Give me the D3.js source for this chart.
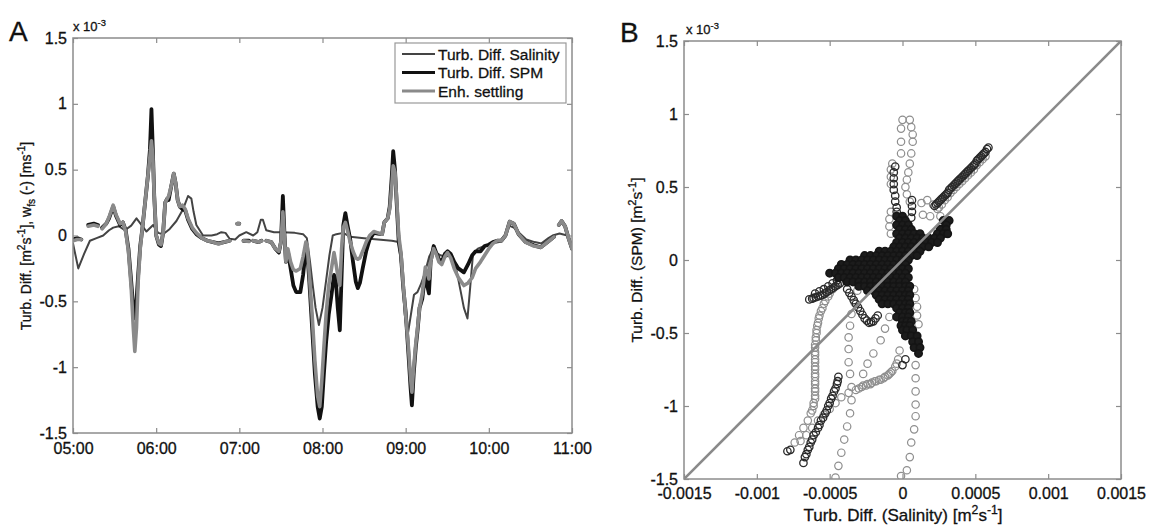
<!DOCTYPE html>
<html>
<head>
<meta charset="utf-8">
<script src="https://cdn.jsdelivr.net/npm/d3@7/dist/d3.min.js"></script>
<style>
  body { margin: 0; background: #fff; }
  svg { font-family: "Liberation Sans", Arial, sans-serif; }
  svg text { stroke: #111; stroke-width: 0.3px; }
</style>
</head>
<body>
<svg id="fig" width="1151" height="528"></svg>
<script>
// ---------- panel A : time series (values in 1e-3) ----------
// minutes after 05:00
const thickMin = [0,3,6,7,11,15,18,19,21,24,26,29,31,34,36,38,40,42,43.5,44.6,45.8,47,48.5,50,52,54,55.5,56.6,57.6,58.6,60,62,63.5,65,66.5,68,69,71,72.7,74,75.5,77,79,81,83,86,89,93,97,101,105,109,113,114,118.5,120,120.5,123,127,127.5,130,134,136,137,139.5,143,146,148.5,150,151.4,152.6,153.6,155,157,159,161,164,166,168,169,170.5,172.5,174.5,176.5,178,179.5,181,182.6,184.5,186.5,188.3,189.5,191,192.5,193.8,195,196.5,198,200,202,204,205.5,207,209,211.5,214,217,220,223,224.6,227,228.5,230,231,232.3,233.5,235,236.6,238.3,240,242,243.5,244.5,245.8,247.3,248.6,250,252,254.2,255.5,256.8,258,260.2,262,264,266,268.3,270.2,272.5,275,278,282,285,288,290.5,294,297,300,303,306,309,312,315,318,321.5,326.5,332.5,337.5,343.5,347,348,350.5,352.5,355,357.5,360];
const spmVal = [-0.03,-0.02,-0.03,null,0.08,0.09,0.08,null,0.06,0.09,0.13,0.22,0.15,0.08,0.1,0.04,-0.1,-0.35,-0.55,-0.63,-0.5,-0.3,-0.08,0.05,0.25,0.45,0.65,0.96,0.65,0.3,0.0,-0.07,-0.08,0.02,0.25,0.28,0.27,0.38,0.47,0.4,0.27,0.22,0.2,0.19,0.12,0.05,0.01,-0.02,-0.04,-0.05,-0.06,-0.05,-0.04,null,0.09,0.09,null,-0.04,-0.04,null,-0.04,-0.05,-0.04,null,-0.04,-0.05,-0.1,-0.13,-0.05,0.3,0.0,-0.2,-0.12,-0.25,-0.38,-0.43,-0.43,-0.3,-0.1,-0.12,-0.35,-0.7,-1.05,-1.3,-1.39,-1.3,-1.05,-0.81,-0.6,-0.45,-0.3,-0.32,-0.55,-0.72,-0.3,0.08,0.17,0.08,-0.03,-0.2,-0.35,-0.4,-0.36,-0.25,-0.12,-0.03,0.02,0.015,0.01,0.1,0.13,0.22,0.45,0.64,0.5,0.25,-0.05,-0.15,-0.4,-0.58,-0.9,-1.15,-1.29,-1.05,-0.85,-0.72,-0.55,-0.48,-0.28,-0.38,-0.44,-0.2,-0.08,-0.13,-0.18,-0.2,-0.14,-0.12,-0.14,-0.2,-0.25,-0.28,-0.22,-0.15,-0.12,-0.12,-0.08,-0.07,-0.05,-0.04,-0.04,0.0,0.105,0.09,0.01,-0.05,-0.075,-0.09,-0.04,-0.01,null,0.08,0.11,0.07,-0.02,-0.1];
const settleVal = [-0.04,-0.03,-0.03,null,0.07,0.08,0.07,null,0.05,0.09,0.14,0.23,0.16,0.09,0.1,0.03,-0.12,-0.4,-0.7,-0.88,-0.7,-0.35,-0.1,0.05,0.25,0.45,0.6,0.72,0.6,0.3,0.0,-0.06,-0.07,0.02,0.25,0.28,0.3,0.38,0.47,0.4,0.27,0.22,0.23,0.2,0.13,0.06,0.02,-0.02,-0.04,-0.05,-0.065,-0.05,-0.04,null,0.09,0.09,null,-0.04,-0.045,null,-0.04,-0.05,-0.04,null,-0.04,-0.05,-0.1,-0.12,-0.05,0.18,-0.02,-0.2,-0.1,-0.2,-0.26,-0.27,-0.25,-0.16,-0.05,-0.08,-0.3,-0.6,-0.95,-1.22,-1.3,-1.1,-0.85,-0.6,-0.38,-0.25,-0.13,-0.2,-0.3,-0.38,-0.1,0.06,0.1,0.04,-0.05,-0.12,-0.17,-0.18,-0.17,-0.12,-0.05,0.0,0.03,0.02,0.01,0.1,0.13,0.2,0.38,0.53,0.48,0.28,0.0,-0.13,-0.38,-0.6,-0.85,-1.08,-1.19,-1.0,-0.82,-0.7,-0.55,-0.44,-0.24,-0.28,-0.33,-0.2,-0.1,-0.14,-0.2,-0.22,-0.16,-0.13,-0.17,-0.25,-0.32,-0.38,-0.36,-0.32,-0.25,-0.2,-0.15,-0.1,-0.06,-0.04,-0.04,0.0,0.105,0.09,0.01,-0.05,-0.08,-0.09,-0.04,-0.01,null,0.08,0.11,0.07,-0.02,-0.1];
const salMin = [0,3.8,8,12.2,17,21.8,26,29,33,37.4,42,45.8,49.4,53,57.8,61.4,65,69.8,74.6,79.4,83,85.4,87,89,93.8,100,104,107,110,113,117,120,125,130,133,135.5,137,139.4,145,151,160,166,168.7,171,173,175,177.4,180,182.5,185,187.4,190,195,200,210,220,230,235,237.5,239.3,241.4,243.5,246,248.5,251,254,257,259.4,262,265,269,272.5,276,279.8,282,284.6,286.5,288.5,292,297,302,307.4,311,314.6,318,322,327,333,338,343,346,351,356.6,360];
const salVal = [-0.06,-0.25,-0.14,-0.04,-0.02,0.0,0.04,0.06,0.07,0.04,0.075,0.13,0.08,0.03,0.08,0.02,0.01,0.05,0.11,0.2,0.3,0.28,0.18,0.08,0.0,0.0,0.01,0.025,0.02,-0.025,-0.03,0.0,0.025,0.0,0.025,0.12,0.12,0.04,0.025,0.025,0.02,0.01,-0.02,-0.2,-0.38,-0.55,-0.68,-0.55,-0.35,-0.15,0.0,0.01,0.02,-0.01,-0.02,-0.03,-0.04,-0.05,-0.3,-0.6,-0.76,-0.62,-0.45,-0.43,-0.37,-0.28,-0.16,-0.11,-0.13,-0.15,-0.16,-0.15,-0.23,-0.43,-0.55,-0.63,-0.4,-0.15,-0.1,-0.08,-0.06,-0.05,-0.02,0.075,0.06,0.02,-0.03,-0.05,-0.06,-0.02,0.0,0.015,0.0,-0.08];
const hourTicks = [0, 60, 120, 180, 240, 300, 360];
const hourLabels = ["05:00", "06:00", "07:00", "08:00", "09:00", "10:00", "11:00"];
const yTicks = [-1.5, -1, -0.5, 0, 0.5, 1, 1.5];
const legendNames = ["Turb. Diff. Salinity", "Turb. Diff. SPM", "Enh. settling"];

// ---------- panel B : scatter, salinity (x) vs SPM (y), both in 1e-3 ----------
const lightUpper = [[0.0,0.96],[0.05,0.96],[-0.01,0.9],[0.06,0.91],[0.07,0.86],[-0.01,0.81],[0.07,0.81],[-0.01,0.73],[0.06,0.73],[0.05,0.66],[0.04,0.6],[0.03,0.55],[0.02,0.5],[0.03,0.45],[0.05,0.4],[0.13,0.39],[0.17,0.41],[0.21,0.38],[0.24,0.35],[0.26,0.3],[0.19,0.3],[0.14,0.31],[-0.08,0.33],[-0.09,0.28],[-0.09,0.23],[-0.08,0.18],[-0.07,0.66],[-0.08,0.62],[-0.08,0.57],[-0.08,0.52]];
const lightDiag = [[0.57,0.71],[0.55,0.69],[0.53,0.67],[0.51,0.65],[0.49,0.62],[0.47,0.6],[0.45,0.58],[0.43,0.56],[0.41,0.54],[0.39,0.52],[0.37,0.5],[0.35,0.48],[0.33,0.46],[0.31,0.43],[0.29,0.41],[0.27,0.38],[0.25,0.36]];
const lightLeft = [[-0.36,-0.05],[-0.38,-0.08],[-0.4,-0.1],[-0.42,-0.13],[-0.44,-0.15],[-0.46,-0.18],[-0.48,-0.2],[-0.5,-0.23],[-0.51,-0.25],[-0.53,-0.28],[-0.54,-0.3],[-0.55,-0.33],[-0.56,-0.35],[-0.57,-0.38],[-0.575,-0.4],[-0.58,-0.43],[-0.585,-0.45],[-0.59,-0.48],[-0.59,-0.5],[-0.595,-0.53],[-0.595,-0.55],[-0.6,-0.58],[-0.6,-0.6],[-0.6,-0.63],[-0.6,-0.65],[-0.6,-0.68],[-0.6,-0.7],[-0.6,-0.73],[-0.6,-0.75],[-0.6,-0.78],[-0.6,-0.8],[-0.6,-0.83],[-0.6,-0.85],[-0.6,-0.88],[-0.6,-0.9],[-0.6,-0.93],[-0.6,-0.95],[-0.61,-0.98],[-0.61,-1.0],[-0.62,-1.03],[-0.63,-1.05],[-0.65,-1.1],[-0.68,-1.15],[-0.71,-1.2],[-0.74,-1.25]];
const lightSparse = [[-0.25,-0.05],[-0.28,-0.13],[-0.31,-0.21],[-0.33,-0.29],[-0.35,-0.37],[-0.36,-0.45],[-0.37,-0.53],[-0.37,-0.61],[-0.37,-0.7],[-0.36,-0.78],[-0.35,-0.87],[-0.35,-0.96],[-0.36,-1.05],[-0.38,-1.14],[-0.4,-1.23],[-0.42,-1.32],[-0.44,-1.41],[-0.46,-1.49]];
const lightCross = [[-0.02,-0.62],[-0.03,-0.68],[-0.04,-0.71],[-0.05,-0.73],[-0.07,-0.76],[-0.08,-0.77],[-0.09,-0.78],[-0.1,-0.79],[-0.12,-0.8],[-0.13,-0.81],[-0.15,-0.82],[-0.16,-0.82],[-0.18,-0.83],[-0.19,-0.83],[-0.21,-0.84],[-0.22,-0.85],[-0.24,-0.85],[-0.25,-0.86],[-0.27,-0.86],[-0.28,-0.87],[-0.3,-0.88],[-0.32,-0.89],[-0.37,-0.91],[-0.42,-0.94],[-0.46,-0.98],[-0.5,-1.02],[-0.54,-1.06],[-0.58,-1.1],[-0.62,-1.15],[-0.66,-1.2],[-0.7,-1.24]];
const lightRight = [[0.09,-0.72],[0.09,-0.81],[0.09,-0.9],[0.09,-0.99],[0.09,-1.07],[0.08,-1.16],[0.06,-1.25],[0.05,-1.35],[0.03,-1.44],[-0.01,-1.48],[-0.06,-0.3],[-0.09,-0.39],[-0.12,-0.47],[-0.15,-0.55],[-0.2,-0.64],[-0.24,-0.71],[-0.27,-0.78],[0.08,-0.2],[0.09,-0.26],[0.1,-0.32],[0.1,-0.38],[0.11,-0.44]];
const darkDiag = [[0.59,0.77],[0.58,0.76],[0.57,0.74],[0.56,0.73],[0.55,0.72],[0.54,0.71],[0.53,0.7],[0.52,0.69],[0.51,0.68],[0.5,0.66],[0.49,0.65],[0.48,0.64],[0.47,0.63],[0.46,0.62],[0.45,0.61],[0.44,0.6],[0.43,0.59],[0.42,0.58],[0.41,0.57],[0.4,0.56],[0.39,0.55],[0.38,0.54],[0.37,0.53],[0.36,0.52],[0.35,0.51],[0.34,0.5],[0.33,0.49],[0.32,0.48],[0.31,0.46],[0.3,0.45],[0.29,0.44],[0.28,0.43],[0.27,0.42],[0.26,0.41],[0.25,0.4],[0.24,0.39],[0.23,0.38],[0.22,0.37]];
const darkArm = [[-0.64,-0.27],[-0.62,-0.265],[-0.61,-0.26],[-0.595,-0.255],[-0.58,-0.25],[-0.565,-0.245],[-0.55,-0.24],[-0.535,-0.23],[-0.52,-0.22],[-0.505,-0.21],[-0.49,-0.2],[-0.475,-0.19],[-0.46,-0.18],[-0.445,-0.17],[-0.43,-0.16],[-0.6,-0.23],[-0.57,-0.215],[-0.54,-0.2],[-0.51,-0.18],[-0.48,-0.16],[-0.45,-0.14],
  [-0.38,-0.2],[-0.365,-0.225],[-0.35,-0.25],[-0.335,-0.275],[-0.32,-0.3],[-0.305,-0.325],[-0.29,-0.35],[-0.275,-0.375],[-0.26,-0.4],[-0.245,-0.415],[-0.23,-0.43],[-0.215,-0.425],[-0.2,-0.42],[-0.185,-0.4],[-0.17,-0.38],
  [-0.05,0.64],[-0.06,0.6],[-0.06,0.56],[-0.06,0.52],[-0.06,0.48],[-0.05,0.44],[-0.05,0.4],[-0.04,0.36],[-0.04,0.33],[0.065,0.41],[0.065,0.37],[0.065,0.33],[0.06,0.29]];
const darkLow = [[-0.44,-0.8],[-0.445,-0.83],[-0.45,-0.85],[-0.46,-0.88],[-0.47,-0.9],[-0.48,-0.93],[-0.49,-0.95],[-0.5,-0.98],[-0.51,-1.0],[-0.52,-1.03],[-0.53,-1.05],[-0.545,-1.08],[-0.56,-1.1],[-0.57,-1.13],[-0.58,-1.15],[-0.595,-1.18],[-0.61,-1.2],[-0.62,-1.23],[-0.63,-1.25],[-0.64,-1.28],[-0.65,-1.3],[-0.66,-1.33],[-0.67,-1.35],[-0.68,-1.39],[-0.77,-1.3],[-0.79,-1.31],[0.0,-0.72],[0.02,-0.68]];
// dense core: rows of [y, x-values] (staggered)
const massRows = [
  [0.30, [-0.04, 0.0]],
  [0.27, [-0.02, 0.02, 0.28, 0.32]],
  [0.24, [-0.04, 0.0, 0.04, 0.3]],
  [0.21, [-0.02, 0.02, 0.06, 0.26, 0.3]],
  [0.18, [-0.04, 0.0, 0.04, 0.08, 0.12, 0.24, 0.28, 0.31]],
  [0.15, [-0.02, 0.02, 0.06, 0.1, 0.14, 0.18, 0.22, 0.26]],
  [0.12, [-0.04, 0.0, 0.04, 0.08, 0.12, 0.16, 0.2, 0.24]],
  [0.09, [-0.06, -0.02, 0.02, 0.06, 0.1, 0.14, 0.18]],
  [0.06, [-0.16, -0.12, -0.08, -0.04, 0.0, 0.04, 0.08, 0.12]],
  [0.03, [-0.26, -0.22, -0.18, -0.14, -0.1, -0.06, -0.02, 0.02, 0.06, 0.1]],
  [0.0, [-0.36, -0.32, -0.28, -0.24, -0.2, -0.16, -0.12, -0.08, -0.04, 0.0, 0.04]],
  [-0.03, [-0.42, -0.38, -0.34, -0.3, -0.26, -0.22, -0.18, -0.14, -0.1, -0.06, -0.02, 0.02]],
  [-0.06, [-0.44, -0.4, -0.36, -0.32, -0.28, -0.24, -0.2, -0.16, -0.12, -0.08, -0.04, 0.0, 0.04]],
  [-0.09, [-0.5, -0.46, -0.42, -0.38, -0.34, -0.3, -0.26, -0.22, -0.18, -0.14, -0.1, -0.06, -0.02, 0.02]],
  [-0.12, [-0.44, -0.4, -0.36, -0.32, -0.28, -0.24, -0.2, -0.16, -0.12, -0.08, -0.04, 0.0, 0.04]],
  [-0.15, [-0.38, -0.34, -0.3, -0.26, -0.22, -0.18, -0.14, -0.1, -0.06, -0.02, 0.02]],
  [-0.18, [-0.3, -0.26, -0.22, -0.18, -0.14, -0.1, -0.06, -0.02, 0.02, 0.05]],
  [-0.21, [-0.24, -0.2, -0.16, -0.12, -0.08, -0.04, 0.0, 0.04]],
  [-0.24, [-0.18, -0.14, -0.1, -0.06, -0.02, 0.02, 0.05]],
  [-0.27, [-0.16, -0.12, -0.08, -0.04, 0.0, 0.04]],
  [-0.30, [-0.14, -0.1, -0.06, -0.02, 0.02, 0.05]],
  [-0.33, [-0.04, 0.0, 0.04]],
  [-0.36, [-0.02, 0.02, 0.05]],
  [-0.39, [-0.04, 0.0, 0.04]],
  [-0.42, [0.0, 0.03, 0.06]],
  [-0.45, [-0.01, 0.02, 0.05]],
  [-0.48, [0.0, 0.03, 0.07]],
  [-0.52, [0.02, 0.06, 0.1]],
  [-0.56, [0.07, 0.11]],
  [-0.60, [0.08, 0.12]],
  [-0.64, [0.11]]
];
const diagLine = [[-1.5, -1.5], [1.5, 1.5]];
const xTicksB = [-1.5, -1, -0.5, 0, 0.5, 1, 1.5];

const svg = d3.select("#fig");
const frameColor = "#8c8c8c";
const textColor = "#111";

// text with super/subscript pieces: [text, shift] where shift -1 = sup, 1 = sub
function richText(g, parts, size) {
  const t = g.append("text").attr("font-size", size).attr("fill", textColor);
  let cur = 0;
  parts.forEach(p => {
    const s = p[1] || 0;
    const target = s === -1 ? -size * 0.4 : (s === 1 ? size * 0.3 : 0);
    t.append("tspan")
      .attr("dy", target - cur)
      .attr("font-size", s ? size * 0.72 : size)
      .text(p[0]);
    cur = target;
  });
  return t;
}

function drawFrame(g, x, y, xt, yt, xfmt, padX) {
  const [x0, x1] = x.range(), [y0, y1] = y.range();
  g.append("g").attr("transform", `translate(0,${y0})`)
    .call(d3.axisBottom(x).tickValues(xt).tickFormat(xfmt).tickSizeInner(-5).tickSizeOuter(0).tickPadding(padX))
    .call(a => a.select(".domain").remove());
  g.append("g").attr("transform", `translate(0,${y1})`)
    .call(d3.axisTop(x).tickValues(xt).tickFormat("").tickSizeInner(-5).tickSizeOuter(0))
    .call(a => a.select(".domain").remove());
  g.append("g").attr("transform", `translate(${x0},0)`)
    .call(d3.axisLeft(y).tickValues(yt).tickFormat(d => String(d)).tickSizeInner(-5).tickSizeOuter(0).tickPadding(6))
    .call(a => a.select(".domain").remove());
  g.append("g").attr("transform", `translate(${x1},0)`)
    .call(d3.axisRight(y).tickValues(yt).tickFormat("").tickSizeInner(-5).tickSizeOuter(0))
    .call(a => a.select(".domain").remove());
  g.selectAll(".tick line").attr("stroke", frameColor).attr("stroke-width", 1.2);
  g.selectAll(".tick text").attr("fill", textColor).attr("font-size", 16)
    .attr("font-family", "Liberation Sans, Arial, sans-serif");
  g.append("rect").attr("x", x0).attr("y", y1).attr("width", x1 - x0).attr("height", y0 - y1)
    .attr("fill", "none").attr("stroke", frameColor).attr("stroke-width", 1.5);
}

// ================= Panel A =================
const xA = d3.scaleLinear().domain([0, 360]).range([73, 572]);
const yA = d3.scaleLinear().domain([-1.5, 1.5]).range([433, 38]);
const gA = svg.append("g");

svg.append("defs").append("clipPath").attr("id", "clipA")
  .append("rect").attr("x", 73).attr("y", 38).attr("width", 499).attr("height", 395);

const lineA = d3.line().defined(d => d[1] !== null).x(d => xA(d[0])).y(d => yA(d[1]));
const salPts = salMin.map((m, i) => [m, salVal[i]]);
const spmPts = thickMin.map((m, i) => [m, spmVal[i]]);
const setPts = thickMin.map((m, i) => [m, settleVal[i]]);

const plotA = gA.append("g").attr("clip-path", "url(#clipA)");
const seriesA = [
  { pts: salPts, color: "#444", w: 2 },
  { pts: spmPts, color: "#111", w: 3.8 },
  { pts: setPts, color: "#8a8a8a", w: 3.6 }
];
seriesA.forEach(s => {
  plotA.append("path").datum(s.pts).attr("d", lineA)
    .attr("fill", "none").attr("stroke", s.color).attr("stroke-width", s.w)
    .attr("stroke-linejoin", "round").attr("stroke-linecap", "round");
});

drawFrame(gA, xA, yA, hourTicks, yTicks, (d, i) => hourLabels[i], 10);

// legend
const leg = gA.append("g");
leg.append("rect").attr("x", 395).attr("y", 43).attr("width", 171).attr("height", 60)
  .attr("fill", "#fff").attr("stroke", "#999").attr("stroke-width", 1.2);
legendNames.forEach((name, i) => {
  const yy = 54 + i * 18.5;
  leg.append("line").attr("x1", 402).attr("x2", 435).attr("y1", yy).attr("y2", yy)
    .attr("stroke", seriesA[i].color).attr("stroke-width", i === 0 ? 2 : 3.2);
  leg.append("text").attr("x", 438).attr("y", yy + 5.5).attr("font-size", 15.5)
    .attr("fill", textColor).text(name);
});

gA.append("text").attr("x", 9).attr("y", 41).attr("font-size", 28).attr("fill", textColor).text("A");
richText(gA, [["x 10"], ["-3", -1]], 13).attr("x", 73).attr("y", 31);
richText(gA, [["Turb. Diff. [m"], ["2", -1], ["s"], ["-1", -1], ["], w"], ["fs", 1], [" (-) [ms"], ["-1", -1], ["]"]], 14)
  .attr("text-anchor", "middle").attr("transform", "translate(31,236) rotate(-90)");

// ================= Panel B =================
const xB = d3.scaleLinear().domain([-1.5, 1.5]).range([684, 1121]);
const yB = d3.scaleLinear().domain([-1.5, 1.5]).range([479, 41]);
const gB = svg.append("g");

svg.select("defs").append("clipPath").attr("id", "clipB")
  .append("rect").attr("x", 684).attr("y", 41).attr("width", 437).attr("height", 438);
const plotB = gB.append("g").attr("clip-path", "url(#clipB)");

function circles(data, color, w, fill) {
  plotB.append("g").selectAll("circle").data(data).enter().append("circle")
    .attr("cx", d => xB(d[0])).attr("cy", d => yB(d[1])).attr("r", 3.7)
    .attr("fill", fill || "none").attr("stroke", color).attr("stroke-width", w);
}
const massPts = massRows.flatMap(r => r[1].map(x => [x, r[0]]));
[lightUpper, lightDiag, lightLeft, lightSparse, lightCross, lightRight].forEach(d => circles(d, "#8e8e8e", 1.2));
[darkDiag, darkArm, darkLow].forEach(d => circles(d, "#2a2a2a", 1.3));
circles(massPts, "#151515", 1.6, "#1c1c1c");

plotB.append("path").datum(diagLine)
  .attr("d", d3.line().x(d => xB(d[0])).y(d => yB(d[1])))
  .attr("stroke", "#8a8a8a").attr("stroke-width", 2.6).attr("fill", "none");

drawFrame(gB, xB, yB, xTicksB, yTicks, d => d === 0 ? "0" : String(parseFloat((d * 1e-3).toFixed(4))), 9);

gB.append("text").attr("x", 620).attr("y", 42).attr("font-size", 28).attr("fill", textColor).text("B");
richText(gB, [["x 10"], ["-3", -1]], 13).attr("x", 686).attr("y", 34);
richText(gB, [["Turb. Diff. (SPM) [m"], ["2", -1], ["s"], ["-1", -1], ["]"]], 15.5)
  .attr("text-anchor", "middle").attr("transform", "translate(642,260) rotate(-90)");
richText(gB, [["Turb. Diff. (Salinity) [m"], ["2", -1], ["s"], ["-1", -1], ["]"]], 17)
  .attr("text-anchor", "middle").attr("x", 903).attr("y", 521);
</script>
</body>
</html>
